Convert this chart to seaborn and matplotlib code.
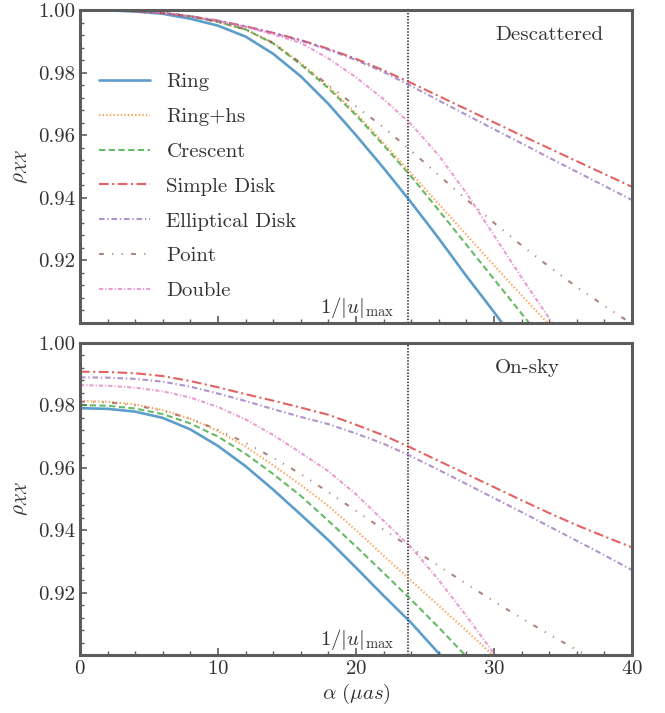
import matplotlib
matplotlib.use("Agg")
import matplotlib.pyplot as plt
import numpy as np
import pandas as pd
import seaborn as sns
from matplotlib.ticker import MultipleLocator, FixedLocator, FormatStrFormatter

# ---------------- data ----------------
alpha = [0, 2, 4, 6, 8, 10, 12, 14, 16, 18, 20, 22, 24, 26, 28, 30, 32, 34, 36, 38, 40]
models = ["Ring", "Ring+hs", "Crescent", "Simple Disk", "Elliptical Disk", "Point", "Double"]
u_line = 23.8

# Descattered panel
desc_ring = [1.0000, 0.9999, 0.9995, 0.9988, 0.9972, 0.9950, 0.9915, 0.9860, 0.9788, 0.9700, 0.9600,
             0.9495, 0.9385, 0.9270, 0.9150, 0.9035, 0.8915, 0.8800, 0.8680, 0.8560, 0.8440]
desc_ringhs = [1.0000, 0.9999, 0.9997, 0.9991, 0.9980, 0.9962, 0.9938, 0.9895, 0.9830, 0.9755, 0.9670,
               0.9575, 0.9478, 0.9380, 0.9282, 0.9184, 0.9088, 0.8995, 0.8900, 0.8805, 0.8710]
desc_crescent = [1.0000, 0.9999, 0.9997, 0.9991, 0.9980, 0.9962, 0.9938, 0.9893, 0.9826, 0.9750, 0.9664,
                 0.9568, 0.9468, 0.9360, 0.9250, 0.9140, 0.9030, 0.8920, 0.8810, 0.8700, 0.8590]
desc_simple = [1.0000, 0.9999, 0.9996, 0.9990, 0.9980, 0.9966, 0.9948, 0.9927, 0.9904, 0.9876, 0.9844,
               0.9807, 0.9767, 0.9725, 0.9683, 0.9641, 0.9599, 0.9558, 0.9517, 0.9476, 0.9435]
desc_ellip = [1.0000, 0.9999, 0.9996, 0.9990, 0.9979, 0.9965, 0.9947, 0.9926, 0.9902, 0.9873, 0.9840,
              0.9802, 0.9757, 0.9711, 0.9665, 0.9619, 0.9574, 0.9528, 0.9483, 0.9438, 0.9393]
desc_point = [1.0000, 0.9999, 0.9997, 0.9991, 0.9980, 0.9962, 0.9938, 0.9895, 0.9830, 0.9760, 0.9692,
              0.9625, 0.9550, 0.9472, 0.9395, 0.9320, 0.9248, 0.9180, 0.9115, 0.9055, 0.8997]
desc_double = [1.0000, 0.9999, 0.9996, 0.9990, 0.9980, 0.9965, 0.9946, 0.9922, 0.9895, 0.9845, 0.9785,
               0.9715, 0.9635, 0.9535, 0.9415, 0.9280, 0.9145, 0.9015, 0.8885, 0.8755, 0.8625]

# On-sky panel
sky_ring = [0.9791, 0.9789, 0.9780, 0.9760, 0.9723, 0.9670, 0.9605, 0.9530, 0.9450, 0.9368, 0.9280,
            0.9190, 0.9103, 0.9005, 0.8905, 0.8800, 0.8695, 0.8590, 0.8485, 0.8380, 0.8275]
sky_ringhs = [0.9814, 0.9812, 0.9803, 0.9785, 0.9757, 0.9718, 0.9668, 0.9608, 0.9545, 0.9478, 0.9400,
              0.9318, 0.9238, 0.9158, 0.9078, 0.8996, 0.8915, 0.8835, 0.8755, 0.8675, 0.8595]
sky_crescent = [0.9801, 0.9799, 0.9790, 0.9772, 0.9742, 0.9700, 0.9645, 0.9580, 0.9510, 0.9430, 0.9348,
                0.9263, 0.9177, 0.9088, 0.8995, 0.8900, 0.8805, 0.8710, 0.8615, 0.8520, 0.8425]
sky_simple = [0.9908, 0.9907, 0.9903, 0.9894, 0.9878, 0.9858, 0.9836, 0.9815, 0.9793, 0.9770, 0.9738,
              0.9704, 0.9664, 0.9622, 0.9580, 0.9538, 0.9496, 0.9455, 0.9416, 0.9380, 0.9345]
sky_ellip = [0.9890, 0.9889, 0.9885, 0.9876, 0.9860, 0.9838, 0.9814, 0.9788, 0.9763, 0.9740, 0.9710,
             0.9677, 0.9637, 0.9593, 0.9548, 0.9503, 0.9458, 0.9412, 0.9366, 0.9320, 0.9272]
sky_point = [0.9812, 0.9810, 0.9800, 0.9783, 0.9757, 0.9722, 0.9680, 0.9632, 0.9580, 0.9522, 0.9462,
             0.9402, 0.9343, 0.9285, 0.9228, 0.9172, 0.9118, 0.9066, 0.9016, 0.8968, 0.8922]
sky_double = [0.9865, 0.9863, 0.9857, 0.9845, 0.9825, 0.9795, 0.9755, 0.9705, 0.9648, 0.9589, 0.9515,
              0.9430, 0.9345, 0.9240, 0.9125, 0.9005, 0.8880, 0.8755, 0.8630, 0.8505, 0.8380]

desc_series = [desc_ring, desc_ringhs, desc_crescent, desc_simple, desc_ellip, desc_point, desc_double]
sky_series = [sky_ring, sky_ringhs, sky_crescent, sky_simple, sky_ellip, sky_point, sky_double]


def long_df(series):
    frames = [pd.DataFrame({"alpha": alpha, "rho": vals, "model": m}) for m, vals in zip(models, series)]
    return pd.concat(frames, ignore_index=True)


# ---------------- style ----------------
sns.set_theme(style="white")
plt.rcParams["font.family"] = ["cmr10", "DejaVu Serif"]
plt.rcParams["mathtext.fontset"] = "cm"
plt.rcParams["axes.formatter.use_mathtext"] = True
plt.rcParams["lines.scale_dashes"] = False
plt.rcParams["axes.unicode_minus"] = False

FS = 15
TXT = "#333333"
SPINE = "#5c5c5c"

palette = dict(zip(models, sns.color_palette("tab10", 7)))
dashes = {
    "Ring": "",
    "Ring+hs": (1.0, 1.6),
    "Crescent": (4.5, 2.5),
    "Simple Disk": (7.0, 2.5, 1.5, 2.5),
    "Elliptical Disk": (4.0, 2.0, 1.0, 2.0),
    "Point": (3.5, 6.0, 0.8, 6.0, 0.8, 6.0),
    "Double": (3.0, 1.5, 0.8, 1.5),
}

fig = plt.figure(figsize=(6.65, 7.13), dpi=100)
ax1 = fig.add_axes([80 / 665, 1 - 323 / 713, 552 / 665, 313 / 713])
ax2 = fig.add_axes([80 / 665, 1 - 655 / 713, 552 / 665, 312 / 713])

for ax, series, tag, show_x in [(ax1, desc_series, "Descattered", False), (ax2, sky_series, "On-sky", True)]:
    df = long_df(series)
    sns.lineplot(data=df, x="alpha", y="rho", hue="model", style="model",
                 hue_order=models, style_order=models, palette=palette, dashes=dashes,
                 linewidth=1.5, alpha=0.72, errorbar=None, legend=False, ax=ax)
    lines = list(ax.get_lines())[:len(models)]
    lines[0].set_linewidth(1.9)

    ax.axvline(u_line, color="#444444", lw=1.4, ls=(0, (1.0, 1.2)), zorder=1)
    ax.text(u_line - 1.0, 0.905, r"$1/|u|_{\max}$", ha="right", va="center",
            fontsize=FS, color=TXT)
    ax.text(0.752, 0.92, tag, transform=ax.transAxes, ha="left", va="center",
            fontsize=FS, color=TXT)

    ax.set_xlim(0, 40)
    ax.set_ylim(0.90, 1.00)
    ax.xaxis.set_major_locator(MultipleLocator(10))
    ax.xaxis.set_minor_locator(MultipleLocator(2))
    ax.yaxis.set_major_locator(FixedLocator([0.92, 0.94, 0.96, 0.98, 1.00]))
    ax.yaxis.set_minor_locator(MultipleLocator(0.004))
    ax.yaxis.set_major_formatter(FormatStrFormatter("%.2f"))
    ax.tick_params(which="both", direction="in", colors=SPINE, labelcolor=TXT,
                   labelsize=FS, top=False, right=False, left=True, bottom=True)
    ax.tick_params(which="major", length=5, width=1.2)
    ax.tick_params(which="minor", length=3, width=1.0)
    for s in ax.spines.values():
        s.set_color(SPINE)
        s.set_linewidth(2.2)

    ax.set_ylabel(r"$\rho_{\mathcal{XX}}$", fontsize=FS, color=TXT)
    ax.yaxis.set_label_coords(-0.09, 0.5)
    if show_x:
        ax.set_xlabel(r"$\alpha\ (\mu as)$", fontsize=FS, color=TXT)
        ax.xaxis.set_label_coords(0.5, -0.085)
    else:
        ax.set_xlabel("")
        ax.tick_params(axis="x", labelbottom=False)

    if ax is ax1:
        ax.legend(lines, models, loc="upper left", bbox_to_anchor=(0.034, 0.80),
                  frameon=False, fontsize=FS, borderpad=0, borderaxespad=0,
                  handlelength=2.45, handletextpad=0.8, labelspacing=0.78,
                  labelcolor=TXT)

fig.savefig("out.png", dpi=100)
